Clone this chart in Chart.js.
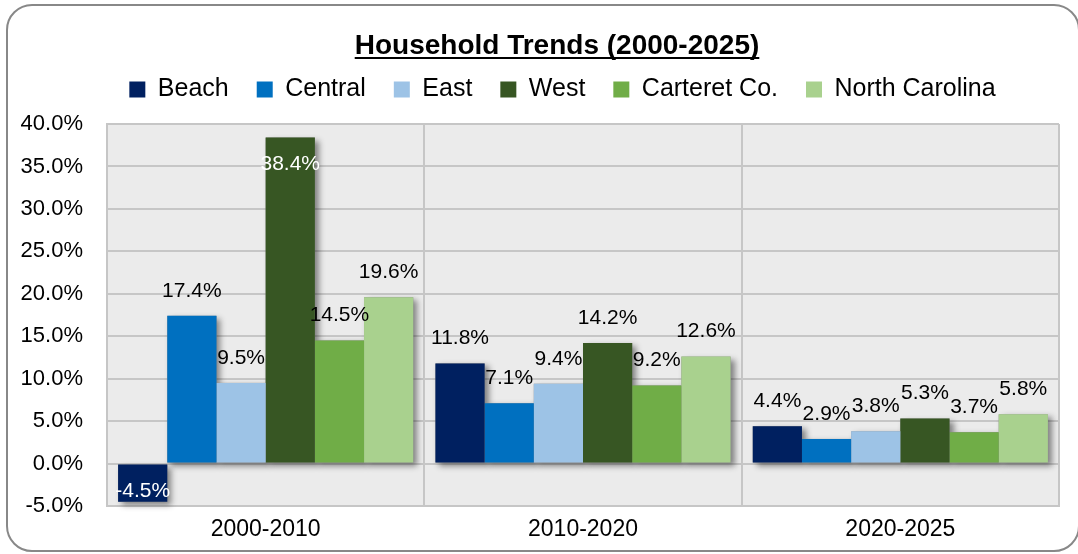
<!DOCTYPE html>
<html>
<head>
<meta charset="utf-8">
<script src="https://cdn.jsdelivr.net/npm/chart.js@4.4.1/dist/chart.umd.min.js"></script>
<style>
  html, body { margin: 0; padding: 0; background: #fff; }
  #wrap { position: relative; width: 1078px; height: 554px; overflow: hidden; }
  #frame {
    position: absolute; left: 6px; top: 4px; width: 1074px; height: 548px;
    border: 2px solid #888; border-radius: 26px; box-sizing: border-box; pointer-events: none;
  }
</style>
</head>
<body>
<div id="wrap">
  <canvas id="chart" width="1078" height="554"></canvas>
  <div id="frame"></div>
</div>
<script>
// periods on the x axis
const periods = ["2000-2010", "2010-2020", "2020-2025"];

// household growth per area (%)
const beach = [-4.5, 11.8, 4.4];
const central = [17.4, 7.1, 2.9];
const east = [9.5, 9.4, 3.8];
const west = [38.4, 14.2, 5.3];
const carteret = [14.5, 9.2, 3.7];
const northCarolina = [19.6, 12.6, 5.8];

const seriesNames = ["Beach", "Central", "East", "West", "Carteret Co.", "North Carolina"];
const seriesColors = ["#002060", "#0070C0", "#9DC3E6", "#375623", "#70AD47", "#A9D18E"];
const chartTitle = "Household Trends (2000-2025)";

const FONT = "'Liberation Sans', Arial, sans-serif";

// grey plot background
const plotBackground = {
  id: "plotBackground",
  beforeDraw(chart) {
    const { ctx, chartArea: a } = chart;
    ctx.save();
    ctx.fillStyle = "#ebebeb";
    ctx.fillRect(a.left, a.top, a.right - a.left, a.bottom - a.top);
    ctx.restore();
  },
};

// extra room between legend and plot, and legend nudged right
const legendPlace = {
  id: "legendPlace",
  beforeLayout(chart) {
    const lg = chart.legend;
    if (lg && !lg._gapPatched) {
      const fit = lg.fit.bind(lg);
      lg.fit = function () {
        fit();
        this.height += 12;
      };
      lg._gapPatched = true;
    }
  },
  afterLayout(chart) {
    if (chart.legend) chart.legend.left += 66;
  },
};

// soft drop shadow behind the bars
const barShadow = {
  id: "barShadow",
  beforeDatasetsDraw(chart) {
    const ctx = chart.ctx;
    ctx.save();
    ctx.shadowColor = "rgba(0,0,0,0.45)";
    ctx.shadowBlur = 6;
    ctx.shadowOffsetX = 4;
    ctx.shadowOffsetY = 3;
    ctx.fillStyle = "#888";
    chart.data.datasets.forEach((ds, i) => {
      chart.getDatasetMeta(i).data.forEach((bar) => {
        const top = Math.min(bar.y, bar.base);
        const h = Math.abs(bar.base - bar.y);
        ctx.fillRect(bar.x - bar.width / 2, top, bar.width, h);
      });
    });
    ctx.restore();
  },
};

// value labels above each bar
const valueLabels = {
  id: "valueLabels",
  afterDatasetsDraw(chart) {
    const { ctx, chartArea: a } = chart;
    ctx.save();
    ctx.font = "21px " + FONT;
    ctx.textAlign = "center";
    ctx.textBaseline = "middle";
    chart.data.datasets.forEach((ds, i) => {
      chart.getDatasetMeta(i).data.forEach((bar, j) => {
        const v = ds.data[j];
        const txt = v.toFixed(1) + "%";
        let y = bar.y - 25;
        ctx.fillStyle = "#000";
        if (v < 0) {
          y = bar.y - 11;
          ctx.fillStyle = "#fff";
        } else if (y - 10 < a.top) {
          y = bar.y + 27;
          ctx.fillStyle = "#fff";
        }
        ctx.fillText(txt, bar.x, y);
      });
    });
    ctx.restore();
  },
};

// bold underlined title
const underlinedTitle = {
  id: "underlinedTitle",
  afterDraw(chart) {
    const ctx = chart.ctx;
    ctx.save();
    ctx.font = "bold 28px " + FONT;
    ctx.fillStyle = "#000";
    ctx.textAlign = "center";
    ctx.textBaseline = "alphabetic";
    const cx = 557;
    ctx.fillText(chartTitle, cx, 54);
    const w = ctx.measureText(chartTitle).width;
    ctx.fillRect(cx - w / 2, 57, w, 2);
    ctx.restore();
  },
};

const values = [beach, central, east, west, carteret, northCarolina];

new Chart(document.getElementById("chart"), {
  type: "bar",
  data: {
    labels: periods,
    datasets: seriesNames.map((name, i) => ({
      label: name,
      data: values[i],
      backgroundColor: seriesColors[i],
      borderWidth: 0,
      categoryPercentage: 0.93,
      barPercentage: 1.0,
    })),
  },
  options: {
    responsive: false,
    animation: false,
    layout: { padding: { top: 49, right: 19, bottom: 0, left: 0 } },
    plugins: {
      title: { display: false },
      legend: {
        position: "top",
        labels: {
          color: "#000",
          font: { family: FONT, size: 25 },
          boxWidth: 16,
          boxHeight: 16,
          padding: 28,
        },
      },
      tooltip: { enabled: false },
    },
    scales: {
      x: {
        grid: { color: "#c6c6c6", lineWidth: 2, drawTicks: false },
        border: { color: "#c6c6c6", width: 2 },
        ticks: { color: "#000", font: { family: FONT, size: 23 }, padding: 10 },
        afterFit(scale) { scale.height = 48; },
      },
      y: {
        min: -5,
        max: 40,
        grid: { color: "#c6c6c6", lineWidth: 2, drawTicks: false },
        border: { color: "#c6c6c6", width: 2 },
        ticks: {
          stepSize: 5,
          color: "#000",
          font: { family: FONT, size: 22 },
          padding: 24,
          callback: (v) => v.toFixed(1) + "%",
        },
        afterFit(scale) { scale.width = 107; },
      },
    },
  },
  plugins: [legendPlace, plotBackground, barShadow, valueLabels, underlinedTitle],
});
</script>
</body>
</html>
